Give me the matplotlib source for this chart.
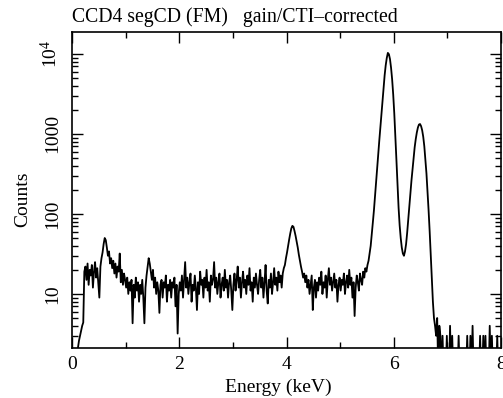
import numpy as np
import matplotlib
matplotlib.use("Agg")
import matplotlib.pyplot as plt
from matplotlib.ticker import FixedLocator, FixedFormatter, LogLocator, NullFormatter, MultipleLocator

plt.rcParams['font.family'] = ['Liberation Serif', 'DejaVu Serif']
plt.rcParams['mathtext.fontset'] = 'custom'
plt.rcParams['mathtext.rm'] = 'Liberation Serif'
plt.rcParams['mathtext.it'] = 'Liberation Serif:italic'
plt.rcParams['font.size'] = 14

# channel width 0.02 keV, channel centres 0.01 ... 7.99 keV
bin_width = 0.02
n_channels = 400

counts_0to1 = [1, 1, 1, 1.2, 1.6, 2.1, 2.6, 3.0, 3.5, 4.0,
               4.4, 19, 22, 15, 24, 13, 20, 17, 23, 12,
               19, 25, 16, 21, 14, 9, 22, 28, 33, 42,
               50, 47, 38, 30, 34, 24, 28, 21, 26, 18,
               24, 16, 22, 19, 32, 14, 20, 13, 18, 15]
counts_1to2 = [12, 16, 10, 14, 11, 15, 4.3, 13, 9, 16,
               11, 14, 8, 13, 10, 15, 9, 4.3, 12, 17,
               22, 28, 24, 19, 15, 20, 12, 16, 10, 14,
               11, 5.8, 13, 15, 9, 14, 12, 17, 8, 13,
               11, 15, 9, 14, 12, 16, 7, 13, 3.2, 10]
counts_2to3 = [14, 11, 17, 9, 15, 25, 12, 16, 10, 14,
               18, 8, 13, 11, 17, 12, 6.3, 14, 10, 19,
               13, 15, 9, 16, 12, 20, 11, 14, 8, 17,
               13, 15, 25, 12, 16, 10, 14, 18, 9, 13,
               16, 11, 20, 12, 15, 9, 14, 17, 11, 6.3]
counts_3to4 = [13, 18, 11, 15, 22, 12, 16, 9, 14, 19,
               12, 15, 10, 17, 13, 21, 11, 14, 8, 16,
               12, 18, 13, 10, 15, 20, 12, 16, 9, 14,
               23, 11, 7.6, 15, 12, 18, 10, 14, 21, 13,
               16, 11, 19, 14, 17, 12, 18, 21, 23, 28]
counts_4to5 = [33, 40, 48, 57, 66, 71, 69, 61, 53, 45,
               38, 31, 26, 22, 19, 16, 18, 14, 17, 12,
               15, 10, 13, 17, 6.3, 12, 15, 9, 14, 11,
               16, 13, 19, 10, 14, 12, 17, 9, 15, 21,
               13, 16, 11, 14, 18, 12, 15, 8, 13, 16]
counts_5to6 = [11, 15, 13, 18, 10, 14, 17, 12, 20, 13,
               16, 9, 14, 5.3, 12, 17, 14, 11, 18, 15,
               13, 19, 16, 21, 19, 23, 26, 32, 40, 55,
               78, 110, 165, 250, 380, 560, 820, 1200, 1750, 2600,
               3800, 5400, 7200, 8900, 10300, 9900, 8600, 6700, 4800, 3100]
counts_6to7 = [1800, 950, 470, 230, 120, 72, 50, 38, 32, 30,
               34, 42, 58, 85, 125, 180, 260, 360, 500, 680,
               860, 1040, 1200, 1310, 1330, 1250, 1110, 920, 700, 480,
               320, 190, 110, 60, 30, 15, 8, 5, 4, 3,
               5, 1, 4, 3, 1, 3, 1, 1, 1, 3]
counts_7to8 = [1, 1, 4, 1, 3, 1, 1, 1, 1, 1,
               3, 1, 1, 1, 1, 1, 1, 1, 3, 1,
               1, 3, 1, 4, 1, 1, 1, 1, 1, 1,
               3, 1, 1, 3, 1, 3, 1, 1, 1, 4,
               1, 3, 1, 1, 1, 1, 3, 1, 1, 1]

x_ticks = [0, 2, 4, 6, 8]
x_ticklabels = ['0', '2', '4', '6', '8']
y_ticks = [10, 100, 1000, 10000]
y_ticklabels = ['10', '100', '1000', r'$10^4$']

counts = np.array(counts_0to1 + counts_1to2 + counts_2to3 + counts_3to4 +
                  counts_4to5 + counts_5to6 + counts_6to7 + counts_7to8, dtype=float)
energy = np.arange(n_channels) * bin_width + bin_width / 2

fig = plt.figure(figsize=(5.03, 3.98), dpi=100)
ax = fig.add_axes([72/503, 50/398, 429/503, 316/398])
ax.plot(energy, counts, color='black', lw=1.3)
ax.set_yscale('log', nonpositive='clip')
ax.set_xlim(0, 8)
ax.set_ylim(2.11, 18800)

ax.xaxis.set_major_locator(FixedLocator(x_ticks))
ax.xaxis.set_major_formatter(FixedFormatter(x_ticklabels))
ax.xaxis.set_minor_locator(MultipleLocator(1))
ax.yaxis.set_major_locator(FixedLocator(y_ticks))
ax.yaxis.set_major_formatter(FixedFormatter(y_ticklabels))
ax.yaxis.set_minor_locator(LogLocator(base=10, subs=np.arange(2, 10)))
ax.yaxis.set_minor_formatter(NullFormatter())

ax.tick_params(which='both', direction='in', top=True, right=True, width=1.0, color='black')
ax.tick_params(which='major', length=8)
ax.tick_params(which='minor', length=4.5)
ax.tick_params(axis='x', which='major', pad=6, labelsize=14)
ax.tick_params(axis='y', which='major', pad=8, labelsize=14, labelrotation=90)
for lbl in ax.get_yticklabels():
    lbl.set_va('center')
for sp in ax.spines.values():
    sp.set_linewidth(1.2)

ax.set_xlabel('Energy (keV)', fontsize=14)
ax.xaxis.set_label_coords(0.481, -0.097)
ax.set_ylabel('Counts', fontsize=14)
ax.yaxis.set_label_coords(-0.096, 0.47)
ax.set_title('CCD4 segCD (FM)   gain/CTI\u2013corrected', loc='left', fontsize=14.2, pad=7)

fig.savefig('out.png', dpi=100)
